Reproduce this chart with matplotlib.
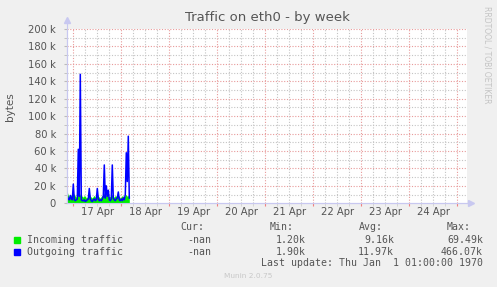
import numpy as np
import matplotlib
matplotlib.use('Agg')
import matplotlib.pyplot as plt
from matplotlib.transforms import blended_transform_factory

# hours relative to 17 Apr 00:00, half-hour samples
heures = np.arange(-3.0, 28.5, 0.5)

entrant = [13, 9, 7, 8, 10, 7, 9, 11, 8, 7, 9, 10, 8, 11, 9, 8, 7, 9, 8, 6, 7,
           9, 10, 8, 7, 6, 8, 9, 7, 8, 10, 8, 7, 6, 8, 9, 10, 11, 9, 10, 9, 8,
           7, 8, 9, 10, 8, 7, 9, 8, 7, 9, 8, 6, 7, 9, 8, 7, 9, 10, 8, 9, 8]
sortant = [8, 5, 4, 9, 5, 4, 22, 4, 3, 4, 5, 62, 8, 148, 4, 3, 3, 4, 2, 3, 4,
           5, 17, 5, 3, 2, 4, 5, 3, 4, 17, 5, 3, 4, 3, 5, 8, 44, 6, 20, 8, 15,
           4, 3, 5, 44, 6, 4, 3, 5, 6, 13, 4, 3, 5, 3, 6, 4, 10, 58, 25, 77, 6]

jours = ['17 Apr', '18 Apr', '19 Apr', '20 Apr', '21 Apr', '22 Apr', '23 Apr', '24 Apr']
yticks = np.arange(0, 201, 20)

series = ['Incoming traffic', 'Outgoing traffic']
couleurs = ['#00ee00', '#0000ff']
cur = ['-nan', '-nan']
mins = ['1.20k', '1.90k']
avgs = ['9.16k', '11.97k']
maxs = ['69.49k', '466.07k']

W, H = 497, 287
gris = '#555555'
fig = plt.figure(figsize=(W / 100, H / 100), dpi=100, facecolor='#f0f0f0')
ax = fig.add_axes([67 / W, 1 - 203.3 / H, 400 / W, 174.3 / H])
ax.set_facecolor('white')

e = np.array(entrant) * 1000
s = np.array(sortant) * 1000
ax.fill_between(heures, 0, e, color=couleurs[0], lw=0, zorder=3)
ax.plot(heures, s, color=couleurs[1], lw=1.1, zorder=4)

ax.set_xlim(-3.15, 196.85)
ax.set_ylim(0, 200000)

# grille
for h in np.arange(0, 197, 6):
    c = '#e89a9a' if h % 24 == 0 else '#c4c4c4'
    ax.axvline(h, color=c, lw=0.8, ls=(0, (1, 1.5)), zorder=1)
for v in np.arange(10000, 200001, 10000):
    c = '#e89a9a' if v % 20000 == 0 else '#c4c4c4'
    ax.axhline(v, color=c, lw=0.8, ls=(0, (1, 1.5)), zorder=1)

ax.set_yticks(yticks * 1000)
ax.set_yticklabels(['%d k' % t if t else '0' for t in yticks])
ax.set_yticks(np.arange(10000, 200000, 20000), minor=True)
ax.tick_params(axis='y', which='both', length=2, color='#bbbbbb', labelsize=7.2,
               labelcolor=gris, pad=6)
ax.set_xticks(np.arange(0, 197, 24))
ax.set_xticklabels([])
ax.set_xticks(np.arange(0, 197, 6), minor=True)
ax.tick_params(axis='x', which='major', length=2, color='#f08080')
ax.tick_params(axis='x', which='minor', length=2, color='#d0d0d0')

tr = blended_transform_factory(ax.transData, fig.transFigure)
for k, j in enumerate(jours):
    ax.text(12 + 24 * k, 1 - 212 / H, j, transform=tr, ha='center', va='center',
            fontsize=7.2, color=gris)

for sp in ['top', 'right']:
    ax.spines[sp].set_visible(False)
for sp in ['left', 'bottom']:
    ax.spines[sp].set_color('#c8c8f0')
    ax.spines[sp].set_linewidth(0.8)
fig.add_artist(plt.Line2D([67 / W, 67 / W], [1 - 203.3 / H, 1 - 22 / H], color='#c8c8f0', lw=0.8))
fig.add_artist(plt.Line2D([67 / W, 470 / W], [1 - 203.3 / H, 1 - 203.3 / H], color='#c8c8f0', lw=0.8))
fig.add_artist(plt.Line2D([67 / W], [1 - 20 / H], marker='^', ms=5, color='#c8c8f0', lw=0))
fig.add_artist(plt.Line2D([471 / W], [1 - 203.3 / H], marker='>', ms=5, color='#c8c8f0', lw=0))

fig.text(267 / W, 1 - 18 / H, 'Traffic on eth0 - by week', ha='center', va='center',
         fontsize=9.5, color=gris)
fig.text(10 / W, 1 - 107 / H, 'bytes', rotation=90, ha='center', va='center',
         fontsize=7.5, color=gris)
fig.text(487 / W, 1 - 6 / H, 'RRDTOOL / TOBI OETIKER', rotation=270, ha='center', va='top',
         fontsize=5.5, color='#c4c4c4')

mono = dict(family='DejaVu Sans Mono', fontsize=7.1, color=gris, va='center')
fig.text(204 / W, 1 - 227 / H, 'Cur:', ha='right', **mono)
fig.text(294 / W, 1 - 227 / H, 'Min:', ha='right', **mono)
fig.text(383 / W, 1 - 227 / H, 'Avg:', ha='right', **mono)
fig.text(471 / W, 1 - 227 / H, 'Max:', ha='right', **mono)
for k in range(2):
    y = 1 - (240 + 12 * k) / H
    fig.add_artist(plt.Rectangle((14 / W, y - 3 / H), 6 / W, 6 / H, color=couleurs[k],
                                 transform=fig.transFigure))
    fig.text(27 / W, y, series[k], ha='left', **mono)
    fig.text(211 / W, y, cur[k], ha='right', **mono)
    fig.text(306 / W, y, mins[k], ha='right', **mono)
    fig.text(394 / W, y, avgs[k], ha='right', **mono)
    fig.text(483 / W, y, maxs[k], ha='right', **mono)
fig.text(483 / W, 1 - 263 / H, 'Last update: Thu Jan  1 01:00:00 1970', ha='right', **mono)
fig.text(248 / W, 1 - 276 / H, 'Munin 2.0.75', ha='center', va='center', fontsize=5.3,
         color='#c8c8c8')

fig.savefig('out.png', dpi=100, facecolor=fig.get_facecolor())
